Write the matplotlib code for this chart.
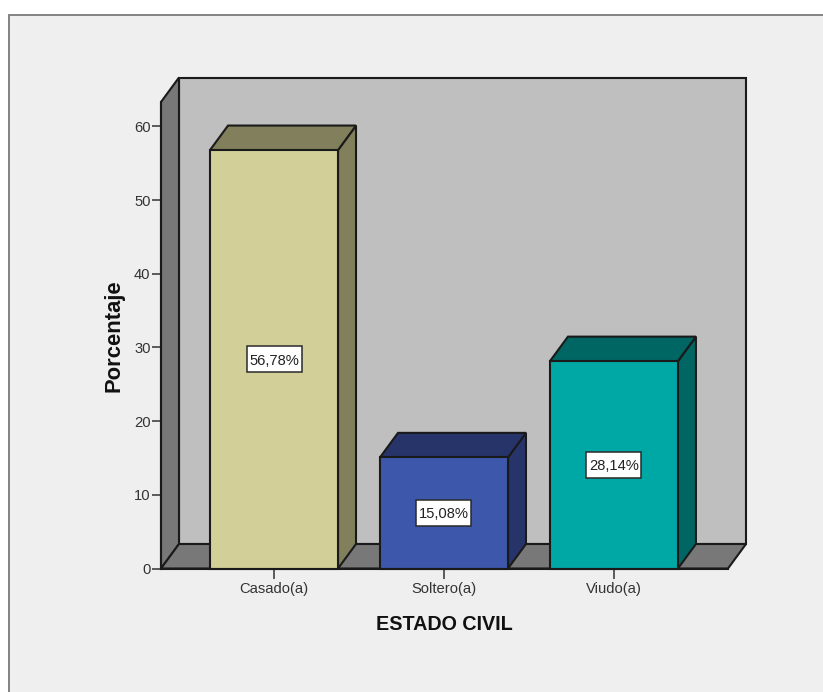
import matplotlib
matplotlib.use("Agg")
import matplotlib.pyplot as plt
from matplotlib.patches import Polygon, Rectangle

# Estado civil, percentages
categories = ["Casado(a)", "Soltero(a)", "Viudo(a)"]
percentages = [56.78, 15.08, 28.14]
value_labels = ["56,78%", "15,08%", "28,14%"]
y_ticks = [0, 10, 20, 30, 40, 50, 60]

front_colors = ["#D3CF98", "#3D57AB", "#00A8A5"]
top_colors = ["#827F5C", "#26346A", "#006663"]
side_colors = ["#827F5C", "#26346A", "#006663"]

EDGE = "#1A1A1A"
W, H = 823, 692
PX_X = 170  # pixels per category
PX_Y = 7.37  # pixels per percentage point
BAR_WIDTH = 128 / PX_X
XLIM = (-0.665, 2.671)
YLIM = (0, 63.3)

plt.rcParams["font.family"] = ["Liberation Sans", "DejaVu Sans"]

fig = plt.figure(figsize=(W / 100, H / 100), dpi=100, facecolor="white")

# panel behind the chart, running off the right and bottom edges
fig.add_artist(Rectangle((9 / W, -0.01), 1, 1 - 15 / H + 0.01, transform=fig.transFigure,
                         facecolor="#EFEFEF", edgecolor="#7A7A7A", lw=1.3, zorder=-1))

ax = fig.add_axes([161 / W, 1 - 568.5 / H, 567 / W, 466.5 / H])
ax.set_xlim(*XLIM)
ax.set_ylim(*YLIM)
ax.patch.set_visible(False)

# depth of the fake 3D box, in data units
dx = 18 / PX_X
dy = 24.5 / PX_Y


def poly(points, color, lw=1.5, z=1):
    ax.add_patch(Polygon(points, closed=True, facecolor=color, edgecolor=EDGE, lw=lw,
                         joinstyle="miter", clip_on=False, zorder=z))


x0, x1 = XLIM
y0, y1 = YLIM

# back wall, left wall, floor
poly([(x0 + dx, y0 + dy), (x1 + dx, y0 + dy), (x1 + dx, y1 + dy), (x0 + dx, y1 + dy)], "#BFBFBF")
poly([(x0, y0), (x0 + dx, y0 + dy), (x0 + dx, y1 + dy), (x0, y1)], "#787878")
poly([(x0, y0), (x1, y0), (x1 + dx, y0 + dy), (x0 + dx, y0 + dy)], "#787878")

box_w = 55 / PX_X
box_h = 26 / PX_Y
for i, value in enumerate(percentages):
    left = i - BAR_WIDTH / 2
    right = i + BAR_WIDTH / 2
    poly([(right, 0), (right + dx, dy), (right + dx, value + dy), (right, value)], side_colors[i], z=3)
    poly([(left, value), (right, value), (right + dx, value + dy), (left + dx, value + dy)], top_colors[i], z=3)
    poly([(left, 0), (right, 0), (right, value), (left, value)], front_colors[i], z=4)
    # label box sits at mid height of the bar
    ax.add_patch(Rectangle((i - box_w / 2, value / 2 - box_h / 2), box_w, box_h, facecolor="white",
                           edgecolor="#2A2A2A", lw=1.1, zorder=5))
    ax.text(i, value / 2, value_labels[i], ha="center", va="center_baseline", fontsize=10.6,
            color="#222222", zorder=6)

for side in ["top", "right"]:
    ax.spines[side].set_visible(False)
for side in ["left", "bottom"]:
    ax.spines[side].set_linewidth(1.5)
    ax.spines[side].set_color(EDGE)
    ax.spines[side].set_zorder(6)

ax.set_xticks(range(len(categories)))
ax.set_xticklabels(categories)
ax.set_yticks(y_ticks)
ax.tick_params(axis="x", length=7.5, width=1.1, color="#333333", labelsize=10.6, labelcolor="#333333", pad=2.5)
ax.tick_params(axis="y", length=6.5, width=1.1, color="#333333", labelsize=10.6, labelcolor="#333333", pad=1)

fig.text(444 / W, 1 - 624 / H, "ESTADO CIVIL", ha="center", va="center", fontsize=14.2, fontweight="bold", color="#111111")
fig.text(113.5 / W, 1 - 336 / H, "Porcentaje", ha="center", va="center", rotation=90, fontsize=15.8, fontweight="bold", color="#111111")

fig.savefig("out.png", dpi=100)
